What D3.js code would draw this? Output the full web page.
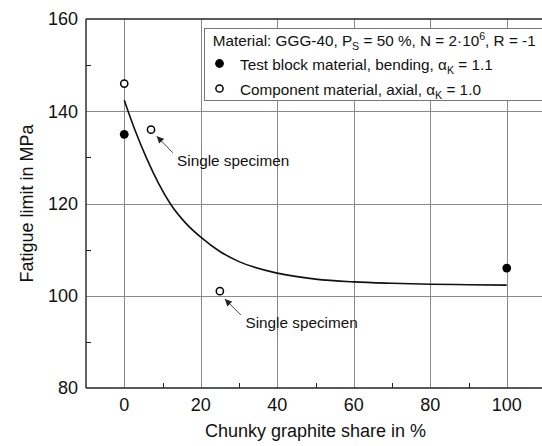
<!DOCTYPE html>
<html><head><meta charset="utf-8">
<script src="https://cdn.jsdelivr.net/npm/d3@7"></script>
<style>
html,body{margin:0;padding:0;background:#fff;}
svg{display:block;font-family:"Liberation Sans",Arial,sans-serif;}
</style></head>
<body>
<script>
// ---- data ----
const xTicks = [0, 20, 40, 60, 80, 100];
const xMinor = [10, 30, 50, 70, 90];
const yTicks = [80, 100, 120, 140, 160];
const yMinor = [90, 110, 130, 150];
const testBlockX = [0, 100];
const testBlockY = [135, 106];
const componentX = [0, 7, 25];
const componentY = [146, 136, 101];
const fitX = [0, 3, 6, 9, 12, 16, 20, 25, 30, 40, 50, 60, 70, 80, 90, 100];
const fitY = [142.4, 135.5, 129.5, 124.3, 120, 115.8, 112.7, 109.6, 107.4, 104.9, 103.6, 103.0, 102.7, 102.5, 102.4, 102.3];
const annoLabels = ["Single specimen", "Single specimen"];
const annoTipX = [8.5, 26.3];
const annoTipY = [134.6, 99.3];
const annoTailX = [12.7, 30.5];
const annoTailY = [131.0, 95.8];
const annoTextX = [13.8, 31.7];
const annoTextY = [128.1, 93.0];
const xTitle = "Chunky graphite share in %";
const yTitle = "Fatigue limit in MPa";

const W = 542, H = 446;
const svg = d3.select("body").append("svg").attr("width", W).attr("height", H);
const x = d3.scaleLinear().domain([-10, 110]).range([86, 545]);
const y = d3.scaleLinear().domain([80, 160]).range([388, 19]);

// gridlines
const grid = svg.append("g").attr("stroke", "#8a8a8a").attr("stroke-width", 1);
grid.selectAll(".gx").data(xTicks).join("line")
  .attr("x1", d => Math.round(x(d)) + 0.5).attr("x2", d => Math.round(x(d)) + 0.5)
  .attr("y1", y(160)).attr("y2", y(80));
grid.selectAll(".gy").data(yTicks.slice(1, -1)).join("line")
  .attr("y1", d => Math.round(y(d)) + 0.5).attr("y2", d => Math.round(y(d)) + 0.5)
  .attr("x1", x(-10)).attr("x2", x(110));

// frame
const frame = svg.append("g").attr("stroke", "#222").attr("stroke-width", 1.4).attr("fill", "none");
frame.append("line").attr("x1", x(-10)).attr("x2", x(110)).attr("y1", y(160)).attr("y2", y(160));
frame.append("line").attr("x1", x(-10)).attr("x2", x(110)).attr("y1", y(80)).attr("y2", y(80));
frame.append("line").attr("x1", x(-10)).attr("x2", x(-10)).attr("y1", y(160)).attr("y2", y(80));
frame.append("line").attr("x1", x(110)).attr("x2", x(110)).attr("y1", y(160)).attr("y2", y(80));

// minor ticks (inward)
const ticks = svg.append("g").attr("stroke", "#222").attr("stroke-width", 1);
ticks.selectAll(".mx").data(xMinor).join("line")
  .attr("x1", d => Math.round(x(d)) + 0.5).attr("x2", d => Math.round(x(d)) + 0.5)
  .attr("y1", y(80)).attr("y2", y(80) - 5);
ticks.selectAll(".my").data(yMinor).join("line")
  .attr("y1", d => Math.round(y(d)) + 0.5).attr("y2", d => Math.round(y(d)) + 0.5)
  .attr("x1", x(-10)).attr("x2", x(-10) + 5);

// tick labels
svg.append("g").selectAll("text").data(xTicks).join("text")
  .attr("x", d => x(d)).attr("y", 411).attr("text-anchor", "middle")
  .attr("font-size", 18).attr("fill", "#111").text(d => d);
svg.append("g").selectAll("text").data(yTicks).join("text")
  .attr("x", 78).attr("y", d => y(d)).attr("dy", "0.35em").attr("text-anchor", "end")
  .attr("font-size", 18).attr("fill", "#111").text(d => d);

// axis titles
svg.append("text").attr("x", (x(-10) + x(110)) / 2).attr("y", 437).attr("text-anchor", "middle")
  .attr("font-size", 18).attr("fill", "#111").text(xTitle);
svg.append("text").attr("transform", `translate(33,${(y(80) + y(160)) / 2}) rotate(-90)`)
  .attr("text-anchor", "middle").attr("font-size", 18).attr("fill", "#111").text(yTitle);

// fit curve
const fit = fitX.map((d, i) => [d, fitY[i]]);
svg.append("path").datum(fit)
  .attr("d", d3.line().x(d => x(d[0])).y(d => y(d[1])).curve(d3.curveMonotoneX))
  .attr("fill", "none").attr("stroke", "#111").attr("stroke-width", 1.6);

// markers
svg.append("g").selectAll("circle").data(testBlockX.map((d, i) => [d, testBlockY[i]])).join("circle")
  .attr("cx", d => x(d[0])).attr("cy", d => y(d[1])).attr("r", 4.4).attr("fill", "#000");
svg.append("g").selectAll("circle").data(componentX.map((d, i) => [d, componentY[i]])).join("circle")
  .attr("cx", d => x(d[0])).attr("cy", d => y(d[1])).attr("r", 3.6)
  .attr("fill", "#fff").attr("stroke", "#000").attr("stroke-width", 1.5);

// annotations
svg.append("defs").append("marker").attr("id", "ah")
  .attr("viewBox", "0 0 10 10").attr("refX", 10).attr("refY", 5)
  .attr("markerWidth", 8).attr("markerHeight", 7).attr("markerUnits", "userSpaceOnUse")
  .attr("orient", "auto")
  .append("path").attr("d", "M0,0 L10,5 L0,10 Z").attr("fill", "#222");
const anno = svg.append("g");
annoLabels.forEach((t, i) => {
  anno.append("line")
    .attr("x1", x(annoTailX[i])).attr("y1", y(annoTailY[i]))
    .attr("x2", x(annoTipX[i])).attr("y2", y(annoTipY[i]))
    .attr("stroke", "#333").attr("stroke-width", 0.9).attr("marker-end", "url(#ah)");
  anno.append("text").attr("x", x(annoTextX[i])).attr("y", y(annoTextY[i]))
    .attr("font-size", 15.3).attr("fill", "#111").text(t);
});

// legend
const lg = svg.append("g");
lg.append("rect").attr("x", 204.5).attr("y", 28.5).attr("width", 345).attr("height", 72)
  .attr("fill", "#fff").attr("stroke", "#777").attr("stroke-width", 1);
const fs = 15.3;
const t1 = lg.append("text").attr("x", 212.7).attr("y", 45.5).attr("font-size", fs).attr("fill", "#111");
t1.append("tspan").text("Material: GGG-40, P");
t1.append("tspan").attr("font-size", fs * 0.7).attr("dy", 4).text("S");
t1.append("tspan").attr("dy", -4).text(" = 50 %, N = 2·10");
t1.append("tspan").attr("font-size", fs * 0.7).attr("dy", -6).text("6");
t1.append("tspan").attr("dy", 6).text(", R = -1");

lg.append("circle").attr("cx", 219.5).attr("cy", 63.5).attr("r", 4.4).attr("fill", "#000");
const t2 = lg.append("text").attr("x", 240).attr("y", 69.5).attr("font-size", fs).attr("fill", "#111");
t2.append("tspan").text("Test block material, bending, α");
t2.append("tspan").attr("font-size", fs * 0.7).attr("dy", 4).text("K");
t2.append("tspan").attr("dy", -4).text(" = 1.1");

lg.append("circle").attr("cx", 219.5).attr("cy", 88.5).attr("r", 3.6)
  .attr("fill", "#fff").attr("stroke", "#000").attr("stroke-width", 1.5);
const t3 = lg.append("text").attr("x", 240).attr("y", 94.5).attr("font-size", fs).attr("fill", "#111");
t3.append("tspan").text("Component material, axial, α");
t3.append("tspan").attr("font-size", fs * 0.7).attr("dy", 4).text("K");
t3.append("tspan").attr("dy", -4).text(" = 1.0");
</script>
</body></html>
